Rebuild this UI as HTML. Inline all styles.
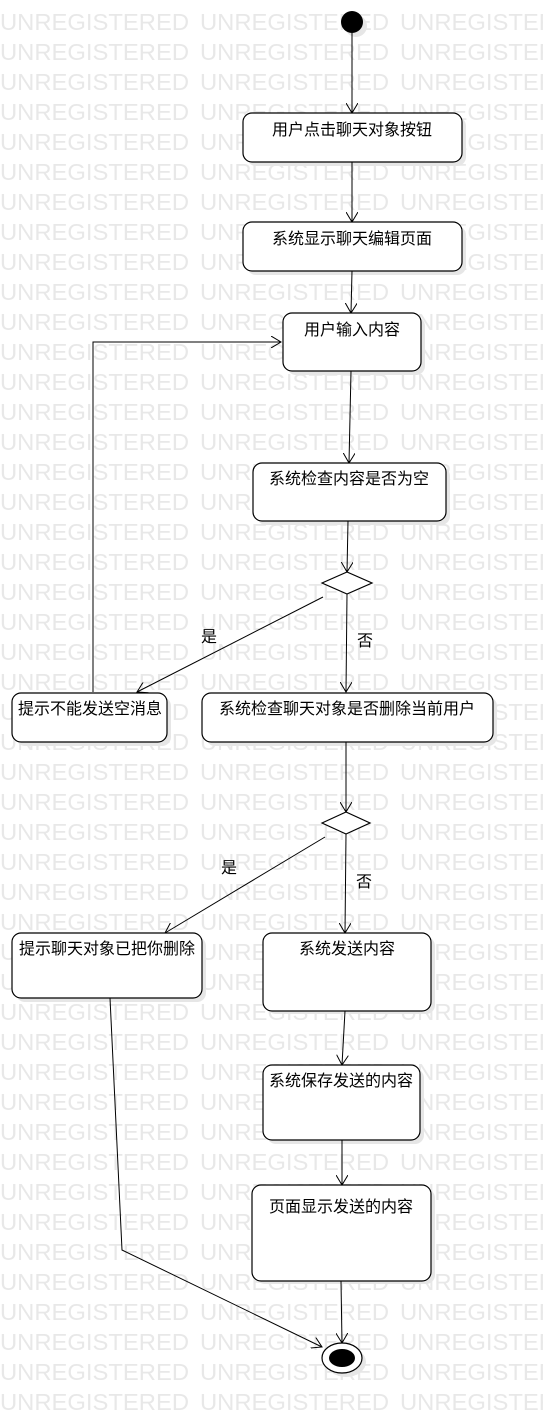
<!DOCTYPE html>
<html><head><meta charset="utf-8"><style>
html,body{margin:0;padding:0;background:#fff;}
svg{display:block;}
.wm{font-family:"Liberation Sans",sans-serif;font-size:23px;fill:#e8e8e8;}
.t{font-family:"Liberation Sans","Noto Sans CJK SC",sans-serif;font-size:16px;fill:#000;}
.b{fill:#fff;stroke:#000;stroke-width:1.2;}
.sh{fill:#e6e6e6;}
.l{stroke:#000;stroke-width:1;fill:none;}
</style></head><body>
<svg width="543" height="1423" viewBox="0 0 543 1423" xmlns="http://www.w3.org/2000/svg">
<defs>
<pattern id="wmp" x="0" y="0" width="200" height="30" patternUnits="userSpaceOnUse">
<text class="wm" x="0" y="30" textLength="189" lengthAdjust="spacingAndGlyphs">UNREGISTERED</text>
<text class="wm" x="0" y="0" textLength="189" lengthAdjust="spacingAndGlyphs">UNREGISTERED</text>
</pattern>
<marker id="a" markerWidth="12" markerHeight="12" refX="10" refY="6" orient="auto" markerUnits="userSpaceOnUse"><path d="M0,0 L10,6 L0,12" fill="none" stroke="#000" stroke-width="1"/></marker>
</defs>
<rect x="0" y="0" width="543" height="1423" fill="url(#wmp)"/>

<g class="sh">
<rect x="247" y="117" width="219" height="49" rx="9"/>
<rect x="247" y="226" width="219" height="49" rx="9"/>
<rect x="287" y="317" width="138" height="58" rx="9"/>
<rect x="257" y="467" width="193" height="58" rx="9"/>
<rect x="16" y="697" width="155" height="49" rx="9"/>
<rect x="206" y="697" width="291" height="49" rx="9"/>
<rect x="16" y="937" width="190" height="65" rx="9"/>
<rect x="267" y="937" width="168" height="77" rx="9"/>
<rect x="267" y="1069" width="157" height="75" rx="9"/>
<rect x="256" y="1189" width="179" height="95" rx="9"/>
<circle cx="356" cy="26" r="11"/>
<ellipse cx="346" cy="1362" rx="20" ry="15"/>
</g>

<line class="l" x1="352" y1="33" x2="352" y2="113" marker-end="url(#a)"/>
<line class="l" x1="352" y1="162" x2="352" y2="222" marker-end="url(#a)"/>
<line class="l" x1="352" y1="271" x2="351" y2="313" marker-end="url(#a)"/>
<line class="l" x1="351" y1="371" x2="349" y2="463" marker-end="url(#a)"/>
<line class="l" x1="348" y1="521" x2="347" y2="572" marker-end="url(#a)"/>
<line class="l" x1="347" y1="594" x2="346" y2="692" marker-end="url(#a)"/>
<line class="l" x1="323" y1="597" x2="137" y2="692" marker-end="url(#a)"/>
<polyline class="l" points="93,692 93,342 281,342" marker-end="url(#a)"/>
<line class="l" x1="346" y1="741" x2="346" y2="812" marker-end="url(#a)"/>
<line class="l" x1="346" y1="834" x2="345" y2="933" marker-end="url(#a)"/>
<line class="l" x1="325" y1="837" x2="165" y2="933" marker-end="url(#a)"/>
<line class="l" x1="345" y1="1011" x2="342" y2="1065" marker-end="url(#a)"/>
<line class="l" x1="342" y1="1140" x2="342" y2="1185" marker-end="url(#a)"/>
<line class="l" x1="341" y1="1281" x2="342" y2="1343" marker-end="url(#a)"/>
<polyline class="l" points="110,998 122,1250 322,1347" marker-end="url(#a)"/>

<circle cx="352" cy="22" r="11" fill="#000"/>
<rect class="b" x="243" y="113" width="219" height="49" rx="9"/>
<rect class="b" x="243" y="222" width="219" height="49" rx="9"/>
<rect class="b" x="283" y="313" width="138" height="58" rx="9"/>
<rect class="b" x="253" y="463" width="193" height="58" rx="9"/>
<polygon class="b" points="322,583 347,572 372,583 347,594"/>
<rect class="b" x="12" y="693" width="155" height="49" rx="9"/>
<rect class="b" x="202" y="693" width="291" height="49" rx="9"/>
<polygon class="b" points="322,823 346,812 370,823 346,834"/>
<rect class="b" x="12" y="933" width="190" height="65" rx="9"/>
<rect class="b" x="263" y="933" width="168" height="78" rx="9"/>
<rect class="b" x="263" y="1065" width="157" height="75" rx="9"/>
<rect class="b" x="252" y="1185" width="179" height="96" rx="9"/>
<ellipse cx="342" cy="1358" rx="20" ry="15" fill="#fff" stroke="#000" stroke-width="1.2"/>
<ellipse cx="342" cy="1358" rx="13" ry="9" fill="#000"/>

<g class="t" text-anchor="middle">
<text x="352" y="135">用户点击聊天对象按钮</text>
<text x="352" y="244">系统显示聊天编辑页面</text>
<text x="352" y="335">用户输入内容</text>
<text x="349" y="484">系统检查内容是否为空</text>
<text x="90" y="714">提示不能发送空消息</text>
<text x="347" y="714">系统检查聊天对象是否删除当前用户</text>
<text x="107" y="954">提示聊天对象已把你删除</text>
<text x="347" y="954">系统发送内容</text>
<text x="341" y="1086">系统保存发送的内容</text>
<text x="341" y="1212">页面显示发送的内容</text>
<text x="209" y="642">是</text>
<text x="365" y="646">否</text>
<text x="229" y="873">是</text>
<text x="364" y="887">否</text>
</g>
</svg>
</body></html>
